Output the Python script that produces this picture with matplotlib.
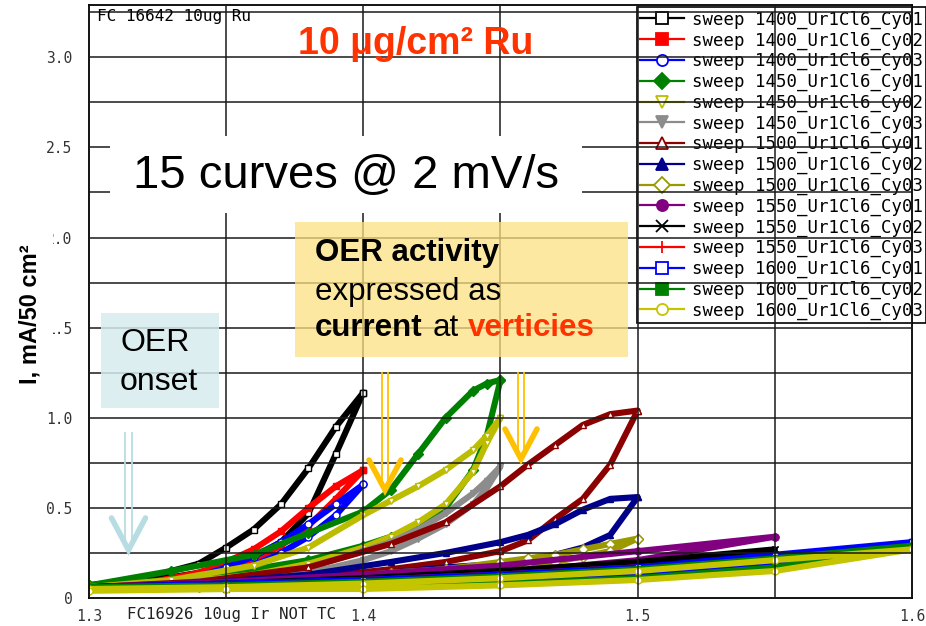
import matplotlib
matplotlib.use("Agg")
import matplotlib.pyplot as plt
from matplotlib.lines import Line2D
from matplotlib.patches import Rectangle

# potentials (V) sampled along each loop, grouped by vertex potential
v_1400 = [1.30, 1.32, 1.34, 1.35, 1.36, 1.37, 1.38, 1.39, 1.40]
v_1450 = [1.30, 1.33, 1.36, 1.38, 1.40, 1.41, 1.42, 1.43, 1.44, 1.445, 1.45]
v_1500 = [1.30, 1.34, 1.38, 1.41, 1.43, 1.45, 1.46, 1.47, 1.48, 1.49, 1.50]
v_1550 = [1.30, 1.35, 1.40, 1.45, 1.50, 1.55]
v_1600 = [1.30, 1.35, 1.40, 1.45, 1.50, 1.55, 1.60]

# current (mA/50 cm2) on upper / lower branch of each loop
i_1400_cy01_up = [0.07, 0.11, 0.19, 0.28, 0.38, 0.52, 0.72, 0.95, 1.14]
i_1400_cy01_dn = [0.07, 0.09, 0.14, 0.18, 0.23, 0.31, 0.47, 0.80, 1.14]
i_1400_cy02_up = [0.06, 0.08, 0.14, 0.20, 0.27, 0.37, 0.50, 0.62, 0.71]
i_1400_cy02_dn = [0.06, 0.07, 0.11, 0.15, 0.21, 0.29, 0.40, 0.55, 0.71]
i_1400_cy03_up = [0.06, 0.07, 0.12, 0.17, 0.23, 0.31, 0.41, 0.52, 0.63]
i_1400_cy03_dn = [0.06, 0.07, 0.10, 0.13, 0.18, 0.25, 0.34, 0.46, 0.63]

i_1450_cy01_up = [0.07, 0.15, 0.24, 0.36, 0.48, 0.60, 0.80, 1.00, 1.15, 1.19, 1.21]
i_1450_cy01_dn = [0.07, 0.10, 0.16, 0.21, 0.29, 0.34, 0.40, 0.50, 0.71, 0.90, 1.21]
i_1450_cy02_up = [0.06, 0.10, 0.18, 0.28, 0.46, 0.54, 0.62, 0.71, 0.82, 0.90, 1.00]
i_1450_cy02_dn = [0.06, 0.08, 0.13, 0.19, 0.28, 0.34, 0.42, 0.52, 0.70, 0.86, 1.00]
i_1450_cy03_up = [0.06, 0.08, 0.12, 0.17, 0.26, 0.31, 0.38, 0.47, 0.58, 0.65, 0.73]
i_1450_cy03_dn = [0.06, 0.07, 0.10, 0.14, 0.21, 0.26, 0.33, 0.41, 0.52, 0.61, 0.73]

i_1500_cy01_up = [0.06, 0.09, 0.17, 0.30, 0.42, 0.62, 0.74, 0.85, 0.96, 1.02, 1.04]
i_1500_cy01_dn = [0.06, 0.07, 0.11, 0.16, 0.20, 0.26, 0.32, 0.44, 0.55, 0.74, 1.04]
i_1500_cy02_up = [0.06, 0.08, 0.13, 0.20, 0.25, 0.31, 0.35, 0.41, 0.49, 0.55, 0.56]
i_1500_cy02_dn = [0.06, 0.07, 0.10, 0.14, 0.17, 0.19, 0.21, 0.24, 0.28, 0.35, 0.56]
i_1500_cy03_up = [0.06, 0.07, 0.10, 0.14, 0.16, 0.20, 0.22, 0.24, 0.27, 0.30, 0.33]
i_1500_cy03_dn = [0.06, 0.06, 0.08, 0.11, 0.13, 0.16, 0.18, 0.20, 0.23, 0.26, 0.33]

i_1550_cy01_up = [0.06, 0.09, 0.13, 0.18, 0.26, 0.34]
i_1550_cy01_dn = [0.05, 0.07, 0.10, 0.14, 0.21, 0.34]
i_1550_cy02_up = [0.06, 0.08, 0.11, 0.15, 0.20, 0.27]
i_1550_cy02_dn = [0.05, 0.07, 0.09, 0.12, 0.16, 0.27]
i_1550_cy03_up = [0.06, 0.07, 0.10, 0.13, 0.17, 0.22]
i_1550_cy03_dn = [0.05, 0.06, 0.08, 0.11, 0.14, 0.22]

i_1600_cy01_up = [0.06, 0.08, 0.10, 0.13, 0.17, 0.24, 0.31]
i_1600_cy01_dn = [0.05, 0.06, 0.07, 0.09, 0.12, 0.18, 0.31]
i_1600_cy02_up = [0.06, 0.07, 0.09, 0.12, 0.16, 0.22, 0.29]
i_1600_cy02_dn = [0.05, 0.05, 0.06, 0.08, 0.11, 0.17, 0.29]
i_1600_cy03_up = [0.05, 0.06, 0.08, 0.11, 0.15, 0.21, 0.27]
i_1600_cy03_dn = [0.04, 0.05, 0.05, 0.07, 0.10, 0.15, 0.27]

labels = ["sweep 1400_Ur1Cl6_Cy01", "sweep 1400_Ur1Cl6_Cy02", "sweep 1400_Ur1Cl6_Cy03",
          "sweep 1450_Ur1Cl6_Cy01", "sweep 1450_Ur1Cl6_Cy02", "sweep 1450_Ur1Cl6_Cy03",
          "sweep 1500_Ur1Cl6_Cy01", "sweep 1500_Ur1Cl6_Cy02", "sweep 1500_Ur1Cl6_Cy03",
          "sweep 1550_Ur1Cl6_Cy01", "sweep 1550_Ur1Cl6_Cy02", "sweep 1550_Ur1Cl6_Cy03",
          "sweep 1600_Ur1Cl6_Cy01", "sweep 1600_Ur1Cl6_Cy02", "sweep 1600_Ur1Cl6_Cy03"]

curves = [
    (v_1400, i_1400_cy01_up, i_1400_cy01_dn, "black", "s", True),
    (v_1400, i_1400_cy02_up, i_1400_cy02_dn, "red", "s", False),
    (v_1400, i_1400_cy03_up, i_1400_cy03_dn, "blue", "o", True),
    (v_1450, i_1450_cy01_up, i_1450_cy01_dn, "#008000", "D", False),
    (v_1450, i_1450_cy02_up, i_1450_cy02_dn, "#bcbc00", "v", True),
    (v_1450, i_1450_cy03_up, i_1450_cy03_dn, "#8c8c8c", "v", False),
    (v_1500, i_1500_cy01_up, i_1500_cy01_dn, "#8b0000", "^", True),
    (v_1500, i_1500_cy02_up, i_1500_cy02_dn, "#00008b", "^", False),
    (v_1500, i_1500_cy03_up, i_1500_cy03_dn, "#9a9a00", "D", True),
    (v_1550, i_1550_cy01_up, i_1550_cy01_dn, "#800080", "o", False),
    (v_1550, i_1550_cy02_up, i_1550_cy02_dn, "black", "x", False),
    (v_1550, i_1550_cy03_up, i_1550_cy03_dn, "red", "+", False),
    (v_1600, i_1600_cy01_up, i_1600_cy01_dn, "blue", "s", True),
    (v_1600, i_1600_cy02_up, i_1600_cy02_dn, "#008000", "s", False),
    (v_1600, i_1600_cy03_up, i_1600_cy03_dn, "#c4c400", "o", True),
]

mono = "DejaVu Sans Mono"
sans = "Liberation Sans"

fig = plt.figure(figsize=(9.26, 6.26), dpi=100)
ax = fig.add_axes([89 / 926, 28 / 626, 823 / 926, 593 / 626])

handles = []
for (v, up, dn, col, mk, hollow), lab in zip(curves, labels):
    face = "white" if hollow else col
    ax.plot(v + v[::-1], up + dn[::-1], color=col, lw=4.4, marker=mk,
            ms=5, mfc=face, mec=col, mew=1.0, zorder=2)
    handles.append(Line2D([], [], color=col, lw=1.6, marker=mk, ms=8,
                          mfc=face, mec=col, mew=1.3, label=lab))

ax.set_xlim(1.3, 1.6)
ax.set_ylim(0, 3.29)
ax.set_xticks([1.3, 1.4, 1.5, 1.6])
ax.set_xticklabels(["1.3", "1.4", "1.5", "1.6"])
ax.set_xticks([1.35, 1.45, 1.55], minor=True)
ax.set_yticks([0, 0.5, 1.0, 1.5, 2.0, 2.5, 3.0])
ax.set_yticklabels(["0", "0.5", "1.0", "1.5", "2.0", "2.5", "3.0"])
ax.set_yticks([0.25, 0.75, 1.25, 1.75, 2.25, 2.75, 3.25], minor=True)
ax.tick_params(which="both", length=0)
ax.tick_params(axis="y", pad=12)
ax.tick_params(axis="x", pad=8)
for t in ax.get_xticklabels() + ax.get_yticklabels():
    t.set_family(mono)
    t.set_fontsize(10.5)
    t.set_color("#333333")
ax.set_axisbelow(False)
ax.grid(which="both", color="#1a1a1a", lw=1.1)
for s in ax.spines.values():
    s.set_color("black")
    s.set_linewidth(1.3)

leg = ax.legend(handles=handles, loc="upper left",
                bbox_to_anchor=(637 / 926, 1 - 7 / 626), bbox_transform=fig.transFigure,
                prop={"family": mono, "size": 12.5}, handlelength=2.5, handletextpad=0.45,
                labelspacing=0.145, borderpad=0.2, borderaxespad=0, fancybox=False,
                framealpha=1, edgecolor="black")
leg.get_frame().set_linewidth(1.2)
leg.set_zorder(1)

# annotation layer in pixel coordinates
ov = fig.add_axes([0, 0, 1, 1], zorder=10)
ov.set_xlim(0, 926)
ov.set_ylim(626, 0)
ov.axis("off")

ov.text(97, 17, "FC 16642 10ug Ru", family=mono, fontsize=11.5, va="center", ha="left")
ov.text(127, 614, "FC16926 10ug Ir NOT TC", family=mono, fontsize=11.3, va="center",
        ha="left", color="#222222")

ov.text(416, 44, "10 μg/cm² Ru", family=sans, fontsize=27, weight="bold",
        color="#ff3300", ha="center", va="center")

ov.add_patch(Rectangle((110, 136), 472, 77, fc="white", ec="none"))
ov.text(346, 176, "15 curves @ 2 mV/s", family=sans, fontsize=34, ha="center", va="center")

ov.add_patch(Rectangle((295, 222), 333, 135, fc="#fce182", ec="none", alpha=0.75))
ov.text(315, 253, "OER activity", family=sans, fontsize=22.5, weight="bold", va="center")
ov.text(315, 292, "expressed as", family=sans, fontsize=22.5, va="center")
ov.text(315, 328, "current", family=sans, fontsize=22.5, weight="bold", va="center")
ov.text(433, 328, "at", family=sans, fontsize=22.5, va="center")
ov.text(468, 328, "verticies", family=sans, fontsize=22.5, weight="bold",
        color="#ff3300", va="center")

ov.add_patch(Rectangle((101, 313), 118, 95, fc="#d6ebee", ec="none", alpha=0.85))
ov.text(121, 343, "OER", family=sans, fontsize=23, va="center")
ov.text(120, 382, "onset", family=sans, fontsize=23, va="center")

# y-axis title sits on a white patch
ov.add_patch(Rectangle((10, 228), 43, 172, fc="white", ec="none"))
ov.text(30, 314, "I, mA/50 cm²", family=sans, fontsize=17, weight="bold",
        rotation=90, ha="center", va="center")


def hollow_arrow(x, y0, y1, color, gap, half_w, head_h, lw_head):
    ov.plot([x - gap / 2, x - gap / 2], [y0, y1 - 6], color=color, lw=1.3)
    ov.plot([x + gap / 2, x + gap / 2], [y0, y1 - 6], color=color, lw=1.3)
    ov.plot([x - half_w, x, x + half_w], [y1 - head_h, y1, y1 - head_h], color=color,
            lw=lw_head, solid_capstyle="round", solid_joinstyle="miter")


hollow_arrow(385, 373, 490, "#ffc000", 6, 16, 30, 4)
hollow_arrow(521, 373, 459, "#ffc000", 6, 16, 30, 4)
hollow_arrow(128.5, 433, 550, "#b7dde2", 6.5, 17, 32, 4)

fig.savefig("out.png", dpi=100)
